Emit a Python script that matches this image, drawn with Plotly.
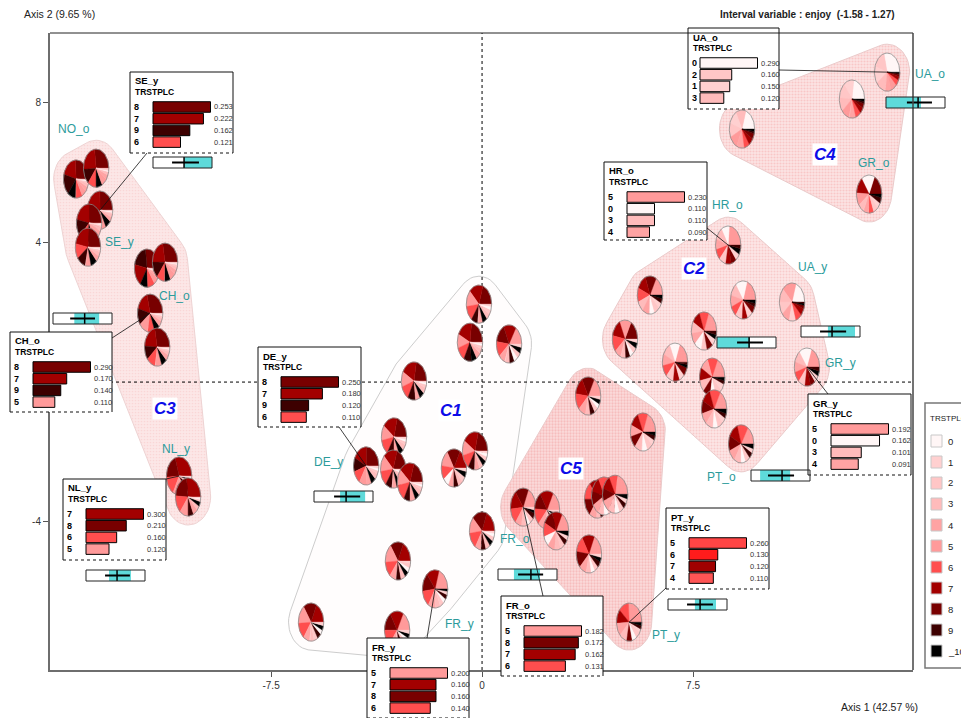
import math
import plotly.graph_objects as go

# ---------------------------------------------------------------------------
# Data
# ---------------------------------------------------------------------------
CATEGORIES = ['0', '1', '2', '3', '4', '5', '6', '7', '8', '9', '_10']
CAT_COLORS = ['#FFF6F6', '#FFD0D0', '#FFC6C6', '#FFBBBB', '#FFA3A3', '#FF9A9A',
              '#FF4E4E', '#A30000', '#780000', '#3D0000', '#000000']

AXIS1_INERTIA = 42.57
AXIS2_INERTIA = 9.65
ENJOY_MIN, ENJOY_MAX = -1.58, 1.27

# groups (country_age), their cluster, factorial coordinates and TRSTPLC profile
PIE_GROUP = ['', 'NO_o', 'SE_y', '', '', '', '', 'CH_o', '', 'NL_y', '',
             'UA_o', '', '', 'GR_o',
             'HR_o', '', '', 'UA_y', '', '', '', 'GR_y', '', '', 'PT_o',
             '', '', '', '', '', 'FR_o', '', '', '', 'PT_y',
             '', '', '', '', '', 'DE_y', '', '', '', '', '', '', 'FR_y', '', '']
PIE_CLUSTER = ['C3'] * 11 + ['C4'] * 4 + ['C2'] * 11 + ['C5'] * 10 + ['C1'] * 15
PIE_X = [-14.43, -13.72, -13.58, -13.97, -14.01, -11.91, -11.27, -11.80, -11.55, -10.77, -10.45,
         14.40, 13.15, 9.24, 13.76,
         8.75, 5.97, 9.28, 11.02, 5.08, 7.89, 6.86, 11.55, 8.18, 8.25, 9.21,
         3.77, 5.72, 4.09, 4.34, 4.73, 1.46, 2.31, 2.63, 3.80, 5.23,
         -0.11, -0.43, 0.96, -2.42, -3.13, -4.12, -3.16, -2.56, -1.00, -0.25, 0.00, -2.99, -1.67, -6.08, -3.02]
PIE_Y = [5.81, 6.12, 4.92, 4.55, 3.86, 3.26, 3.43, 1.97, 1.00, -2.69, -3.29,
         8.87, 8.10, 7.24, 5.38,
         3.92, 2.49, 2.35, 2.29, 1.23, 1.46, 0.57, 0.43, 0.14, -0.77, -1.77,
         -0.40, -1.43, -3.35, -3.26, -3.21, -3.58, -3.66, -4.26, -4.92, -6.87,
         2.23, 1.14, 1.09, 0.03, -1.57, -2.40, -2.49, -2.86, -2.46, -1.97, -4.26, -5.12, -5.92, -6.87, -7.10]
PIE_SHARES = [
    # C3
    [.01, .01, .02, .03, .04, .06, .09, .20, .26, .18, .10],
    [.01, .01, .01, .03, .04, .07, .11, .24, .27, .13, .08],
    [.010, .010, .012, .030, .040, .070, .121, .222, .253, .162, .070],
    [.01, .01, .02, .03, .05, .07, .10, .22, .25, .15, .09],
    [.01, .01, .02, .04, .05, .08, .13, .23, .24, .11, .08],
    [.01, .01, .01, .02, .04, .06, .09, .19, .27, .20, .10],
    [.01, .01, .02, .03, .04, .07, .10, .22, .28, .14, .08],
    [.010, .010, .020, .030, .050, .110, .100, .170, .290, .140, .070],
    [.01, .01, .02, .03, .05, .09, .11, .21, .28, .12, .07],
    [.010, .010, .020, .030, .060, .120, .160, .300, .210, .060, .020],
    [.01, .01, .02, .04, .06, .11, .15, .27, .22, .07, .04],
    # C4
    [.290, .150, .160, .120, .080, .080, .050, .030, .020, .010, .010],
    [.22, .14, .13, .12, .09, .10, .07, .05, .04, .02, .02],
    [.20, .12, .12, .13, .10, .11, .07, .06, .05, .02, .02],
    [.17, .05, .06, .07, .07, .11, .07, .14, .18, .05, .03],
    # C2
    [.110, .060, .080, .110, .090, .230, .090, .080, .070, .030, .050],
    [.07, .05, .07, .09, .09, .17, .12, .13, .14, .04, .03],
    [.15, .07, .08, .11, .10, .20, .09, .08, .06, .03, .03],
    [.20, .09, .11, .12, .10, .18, .08, .06, .03, .01, .02],
    [.05, .03, .05, .07, .08, .15, .14, .15, .17, .06, .05],
    [.09, .06, .08, .10, .10, .19, .12, .11, .08, .03, .04],
    [.13, .07, .09, .11, .10, .19, .10, .09, .07, .02, .03],
    [.162, .060, .080, .101, .091, .192, .090, .080, .065, .035, .044],
    [.08, .06, .08, .10, .11, .18, .13, .11, .09, .03, .03],
    [.07, .05, .07, .09, .10, .17, .14, .12, .11, .04, .04],
    [.06, .04, .06, .09, .10, .16, .14, .13, .13, .05, .04],
    # C5
    [.04, .03, .05, .07, .09, .17, .14, .15, .16, .06, .04],
    [.08, .05, .07, .09, .10, .19, .13, .12, .10, .04, .03],
    [.04, .02, .04, .06, .09, .18, .15, .17, .15, .06, .04],
    [.06, .04, .06, .08, .09, .20, .13, .13, .12, .05, .04],
    [.07, .04, .06, .08, .10, .21, .12, .12, .11, .05, .04],
    [.050, .025, .050, .070, .080, .182, .131, .162, .172, .050, .028],
    [.04, .03, .05, .07, .09, .17, .14, .17, .15, .05, .04],
    [.09, .04, .06, .08, .09, .17, .12, .13, .13, .05, .04],
    [.05, .03, .05, .07, .09, .18, .14, .16, .14, .05, .04],
    [.060, .030, .060, .090, .110, .260, .130, .120, .080, .030, .030],
    # C1
    [.03, .02, .04, .05, .07, .14, .13, .18, .20, .08, .06],
    [.02, .01, .03, .04, .06, .12, .12, .20, .23, .10, .07],
    [.05, .03, .05, .07, .08, .16, .13, .16, .16, .06, .05],
    [.02, .01, .03, .05, .06, .13, .12, .20, .22, .10, .06],
    [.02, .02, .03, .05, .07, .13, .13, .19, .21, .09, .06],
    [.020, .020, .030, .050, .060, .100, .110, .180, .250, .120, .060],
    [.03, .02, .04, .05, .07, .14, .13, .18, .20, .08, .06],
    [.02, .02, .03, .05, .07, .14, .14, .19, .20, .08, .06],
    [.07, .03, .05, .06, .07, .14, .12, .17, .17, .07, .05],
    [.03, .02, .04, .05, .07, .13, .12, .20, .21, .08, .05],
    [.03, .02, .04, .06, .07, .14, .14, .19, .19, .07, .05],
    [.04, .02, .04, .06, .08, .16, .13, .18, .17, .07, .05],
    [.040, .030, .050, .070, .090, .200, .140, .160, .160, .040, .020],
    [.04, .03, .05, .06, .08, .16, .14, .18, .17, .05, .04],
    [.04, .03, .05, .06, .08, .17, .14, .17, .16, .06, .04],
]

# interval variable "enjoy" per group: range (cyan), mean +/- sd (line), mean (tick)
INTERVAL_GROUPS = ['SE_y', 'CH_o', 'NL_y', 'DE_y', 'FR_o', 'PT_y', 'PT_o', 'UA_y', 'HR_o', 'UA_o']
INTERVAL_RANGE = [(-0.08, 1.27), (-0.55, 0.65), (-0.47, 0.59), (-0.32, 0.89), (-0.81, 0.45),
                  (-0.28, 0.74), (-1.14, 0.31), (-0.28, 1.03), (-1.58, 0.01), (-1.58, 0.11)]
INTERVAL_SD = [(-0.66, 0.64), (-0.75, 0.45), (-0.66, 0.54), (-0.61, 0.65), (-0.61, 0.60),
               (-0.66, 0.59), (-0.76, 0.50), (-0.66, 0.60), (-0.61, 0.64), (-0.57, 0.64)]
INTERVAL_MEAN = [-0.08, -0.05, -0.08, -0.03, 0.01, -0.03, -0.08, -0.08, -0.03, -0.03]

BOX_GROUPS = ['SE_y', 'CH_o', 'DE_y', 'NL_y', 'FR_y', 'FR_o', 'PT_y', 'GR_y', 'HR_o', 'UA_o']

CLUSTERS = ['C1', 'C2', 'C3', 'C4', 'C5']

# ---------------------------------------------------------------------------
# Page geometry (pixels) and styling
# ---------------------------------------------------------------------------
W, H = 961, 718
PL, PR, PT, PB = 50, 913, 33, 670
X_RANGE = [-15.36, 15.32]
Y_RANGE = [-8.24, 9.99]
FONT = 'Liberation Sans Narrow, Arial Narrow, Liberation Sans, Arial, sans-serif'
TEAL = '#2B9B9B'
CYAN = '#5EDADA'
PIE_RX, PIE_RY = 0.45, 0.545
HULL_R = 0.8

HULL_STYLE = {
    'C1': dict(fill='#FFFDFD', line='#CDCDCD', pattern=None),
    'C2': dict(fill='#FCE6E6', line='#EACACA', pattern=('#F4AFAF', 0.35)),
    'C3': dict(fill='#FCE7E7', line='#EED3D3', pattern=('#F7C6C6', 0.25)),
    'C4': dict(fill='#FCE4E4', line='#EACACA', pattern=('#F3A9A9', 0.40)),
    'C5': dict(fill='#FBDCDC', line='#EACACA', pattern=('#F29E9E', 0.45)),
}

# box: left, top, width, height, bar offset, connector anchor (pixels)
BOX_LAYOUT = {
    'SE_y': (130, 72, 103, 81, 23, (147, 153)),
    'CH_o': (10, 332, 102, 80, 23, (112, 338)),
    'DE_y': (258, 347, 103, 80, 23, (339, 427)),
    'NL_y': (63, 479, 103, 81, 23, (166, 479)),
    'FR_y': (367, 638, 102, 80, 23, (427, 638)),
    'FR_o': (501, 596, 102, 80, 23, (543, 596)),
    'PT_y': (666, 508, 103, 81, 23, (666, 588)),
    'GR_y': (808, 394, 103, 81, 23, (828, 394)),
    'HR_o': (604, 162, 103, 78, 23, (707, 228)),
    'UA_o': (688, 28, 91, 81, 12, (779, 70)),
}
BOX_BAR_COLORS = {'PT_y': ['#FF4545', '#FF1C1C', '#A00000', '#FF5555']}

INTERVAL_POS = {
    'SE_y': (153, 157), 'CH_o': (53, 313), 'NL_y': (86, 570), 'DE_y': (314, 491),
    'FR_o': (498, 569), 'PT_y': (668, 599), 'PT_o': (751, 470), 'UA_y': (801, 326),
    'HR_o': (717, 337), 'UA_o': (886, 97),
}

GROUP_LABEL_PX = {
    'NO_o': (74, 129), 'SE_y': (119, 242), 'CH_o': (174, 296), 'NL_y': (176, 449),
    'DE_y': (328, 462), 'FR_y': (459, 624), 'FR_o': (515, 539), 'PT_y': (666, 635),
    'PT_o': (721, 477), 'GR_y': (840, 363), 'UA_y': (812, 267), 'HR_o': (727, 205),
    'UA_o': (930, 74), 'GR_o': (874, 163),
}
CLUSTER_LABEL_PX = {'C1': (451, 410), 'C2': (694, 268), 'C3': (165, 409),
                    'C4': (825, 154), 'C5': (571, 468)}


def fx(p):
    return p / W


def fy(p):
    return 1 - p / H


def data_to_px(x, y):
    px = PL + (x - X_RANGE[0]) / (X_RANGE[1] - X_RANGE[0]) * (PR - PL)
    py = PB - (y - Y_RANGE[0]) / (Y_RANGE[1] - Y_RANGE[0]) * (PB - PT)
    return px, py


def text(x, y, s, size, color='#222', xanchor='center', yanchor='middle', **kw):
    return dict(x=fx(x), y=fy(y), xref='paper', yref='paper', text=s, showarrow=False,
                xanchor=xanchor, yanchor=yanchor, font=dict(size=size, color=color), **kw)


def convex_hull(points):
    pts = sorted(set(points))

    def cross(o, a, b):
        return (a[0] - o[0]) * (b[1] - o[1]) - (a[1] - o[1]) * (b[0] - o[0])

    lower, upper = [], []
    for p in pts:
        while len(lower) >= 2 and cross(lower[-2], lower[-1], p) <= 0:
            lower.pop()
        lower.append(p)
    for p in reversed(pts):
        while len(upper) >= 2 and cross(upper[-2], upper[-1], p) <= 0:
            upper.pop()
        upper.append(p)
    hull = lower[:-1] + upper[:-1]
    return hull + [hull[0]]


fig = go.Figure()

# --- cluster envelopes -------------------------------------------------------
for c in CLUSTERS:
    pts = []
    for x, y, cl in zip(PIE_X, PIE_Y, PIE_CLUSTER):
        if cl != c:
            continue
        for i in range(48):
            a = 2 * math.pi * i / 48
            pts.append((round(x + HULL_R * math.cos(a), 4), round(y + HULL_R * math.sin(a), 4)))
    hull = convex_hull(pts)
    st = HULL_STYLE[c]
    kw = {}
    if st['pattern']:
        kw['fillpattern'] = dict(shape='.', bgcolor=st['fill'], fgcolor=st['pattern'][0],
                                 size=3, solidity=st['pattern'][1])
    fig.add_trace(go.Scatter(x=[p[0] for p in hull], y=[p[1] for p in hull], mode='lines',
                             fill='toself', fillcolor=st['fill'],
                             line=dict(color=st['line'], width=1),
                             hoverinfo='skip', showlegend=False, **kw))

# --- origin lines --------------------------------------------------------------
fig.add_trace(go.Scatter(x=[0, 0], y=Y_RANGE, mode='lines',
                         line=dict(color='black', width=1, dash='dot'),
                         hoverinfo='skip', showlegend=False))
fig.add_trace(go.Scatter(x=X_RANGE, y=[0, 0], mode='lines',
                         line=dict(color='black', width=1, dash='dot'),
                         hoverinfo='skip', showlegend=False))

# --- pies (slices sorted by decreasing share, counter-clockwise from 3 o'clock)
for cx, cy, shares in zip(PIE_X, PIE_Y, PIE_SHARES):
    total = sum(shares)
    order = sorted(range(len(shares)), key=lambda k: -shares[k])
    a0 = 0.0
    for k in order:
        frac = shares[k] / total
        if frac <= 0:
            continue
        a1 = a0 + frac * 2 * math.pi
        n = max(2, int(frac * 96) + 2)
        xs, ys = [cx], [cy]
        for i in range(n + 1):
            a = a0 + (a1 - a0) * i / n
            xs.append(cx + PIE_RX * math.cos(a))
            ys.append(cy + PIE_RY * math.sin(a))
        xs.append(cx)
        ys.append(cy)
        fig.add_trace(go.Scatter(x=xs, y=ys, mode='lines', fill='toself',
                                 fillcolor=CAT_COLORS[k],
                                 line=dict(color=CAT_COLORS[k], width=0.4),
                                 hoverinfo='skip', showlegend=False))
        a0 = a1
    ex = [cx + PIE_RX * math.cos(2 * math.pi * i / 72) for i in range(73)]
    ey = [cy + PIE_RY * math.sin(2 * math.pi * i / 72) for i in range(73)]
    fig.add_trace(go.Scatter(x=ex, y=ey, mode='lines', line=dict(color='#8A8A8A', width=0.8),
                             hoverinfo='skip', showlegend=False))

layout = dict(
    width=W, height=H, margin=dict(l=0, r=0, t=0, b=0),
    paper_bgcolor='white', plot_bgcolor='white', showlegend=False,
    hovermode=False, barmode='overlay', font=dict(family=FONT, color='#222'),
    xaxis=dict(domain=[fx(PL), fx(PR)], range=X_RANGE, tickvals=[-7.5, 0, 7.5],
               ticktext=['-7.5', '0', '7.5'], ticks='outside', ticklen=5, tickwidth=1,
               tickcolor='#555', showline=True, linecolor='#6E6E6E', linewidth=2,
               showgrid=False, zeroline=False, tickfont=dict(size=10, color='#333'),
               fixedrange=True, anchor='y'),
    yaxis=dict(domain=[fy(PB), fy(PT)], range=Y_RANGE, tickvals=[8, 4, 0, -4],
               ticktext=['8', '4', '0', '-4'], ticks='outside', ticklen=5, tickwidth=1,
               tickcolor='#555', showline=True, linecolor='#6E6E6E', linewidth=2,
               showgrid=False, zeroline=False, tickfont=dict(size=10, color='#333'),
               fixedrange=True, anchor='x'),
)

shapes = []
annotations = []

# frame (top / right)
shapes.append(dict(type='line', xref='paper', yref='paper', x0=fx(PL), x1=fx(PR),
                   y0=fy(PT), y1=fy(PT), line=dict(color='#222', width=1)))
shapes.append(dict(type='line', xref='paper', yref='paper', x0=fx(PR), x1=fx(PR),
                   y0=fy(PT), y1=fy(PB), line=dict(color='#444', width=1.5)))

# --- TRSTPLC profile boxes (inset bar charts) ----------------------------------
for bi, g in enumerate(BOX_GROUPS):
    left, top, w, h, off, (ax_, ay_) = BOX_LAYOUT[g]
    p = PIE_GROUP.index(g)
    shares = PIE_SHARES[p]
    top4 = sorted(range(len(shares)), key=lambda k: -shares[k])[:4]
    vals = [shares[k] for k in top4]
    vmax = vals[0]
    n = bi + 2
    per_px = vmax / 57.5
    x_lo = -off * per_px
    layout[f'xaxis{n}'] = dict(domain=[fx(left), fx(left + w)], range=[x_lo, x_lo + w * per_px],
                               visible=False, fixedrange=True, anchor=f'y{n}')
    layout[f'yaxis{n}'] = dict(domain=[fy(top + h), fy(top)],
                               range=[(h - 35) / 11.7, -35 / 11.7],
                               visible=False, fixedrange=True, anchor=f'x{n}')
    colors = BOX_BAR_COLORS.get(g, [CAT_COLORS[k] for k in top4])
    fig.add_trace(go.Bar(x=vals, y=[0, 1, 2, 3], orientation='h', width=0.9,
                         marker=dict(color=colors, line=dict(color='black', width=1)),
                         xaxis=f'x{n}', yaxis=f'y{n}', hoverinfo='skip', showlegend=False))
    # border: solid top/left/right, dotted bottom
    shapes.append(dict(type='path', xref='paper', yref='paper', layer='above',
                       path=f'M {fx(left)},{fy(top + h)} L {fx(left)},{fy(top)} '
                            f'L {fx(left + w)},{fy(top)} L {fx(left + w)},{fy(top + h)}',
                       line=dict(color='#111', width=1)))
    shapes.append(dict(type='line', xref='paper', yref='paper', layer='above',
                       x0=fx(left), x1=fx(left + w), y0=fy(top + h), y1=fy(top + h),
                       line=dict(color='#111', width=1, dash='dot')))
    # leader line to the group's pie
    pxc, pyc = data_to_px(PIE_X[p], PIE_Y[p])
    shapes.append(dict(type='line', xref='paper', yref='paper', layer='above',
                       x0=fx(ax_), y0=fy(ay_), x1=fx(pxc), y1=fy(pyc),
                       line=dict(color='#111', width=0.8)))
    annotations.append(text(left + 3, top + 9, f'<b>{g}</b>', 9.5, 'black', xanchor='left'))
    annotations.append(text(left + 3, top + 20, '<b>TRSTPLC</b>', 8.5, 'black', xanchor='left'))
    for i, k in enumerate(top4):
        ry = top + 35 + 11.7 * i
        annotations.append(text(left + 2, ry, f'<b>{CATEGORIES[k]}</b>', 9, 'black',
                                xanchor='left'))
        annotations.append(text(left + off + 58.5, ry, f'{vals[i]:.3f}', 7.5, '#333',
                                xanchor='left'))

# --- interval variable glyphs -----------------------------------------------
for ii, g in enumerate(INTERVAL_GROUPS):
    left, top = INTERVAL_POS[g]
    w, h = 59, 11
    n = 2 + len(BOX_GROUPS) + ii
    layout[f'xaxis{n}'] = dict(domain=[fx(left), fx(left + w)], range=[ENJOY_MIN, ENJOY_MAX],
                               visible=False, fixedrange=True, anchor=f'y{n}')
    layout[f'yaxis{n}'] = dict(domain=[fy(top + h), fy(top)], range=[-0.5, 0.5],
                               visible=False, fixedrange=True, anchor=f'x{n}')
    lo, hi = INTERVAL_RANGE[ii]
    s0, s1 = INTERVAL_SD[ii]
    m = INTERVAL_MEAN[ii]
    fig.add_trace(go.Bar(x=[hi - lo], base=[lo], y=[0], orientation='h', width=1,
                         marker=dict(color=CYAN, line=dict(width=0)),
                         xaxis=f'x{n}', yaxis=f'y{n}', hoverinfo='skip', showlegend=False))
    fig.add_trace(go.Scatter(x=[s0, s1], y=[0, 0], mode='lines',
                             line=dict(color='black', width=2),
                             xaxis=f'x{n}', yaxis=f'y{n}', hoverinfo='skip', showlegend=False))
    fig.add_trace(go.Scatter(x=[m, m], y=[-0.5, 0.5], mode='lines',
                             line=dict(color='black', width=1.5),
                             xaxis=f'x{n}', yaxis=f'y{n}', hoverinfo='skip', showlegend=False))
    shapes.append(dict(type='rect', xref='paper', yref='paper', layer='above',
                       x0=fx(left), x1=fx(left + w), y0=fy(top + h), y1=fy(top),
                       line=dict(color='#222', width=1)))

# --- group and cluster labels ------------------------------------------------
for g, (lx, ly) in GROUP_LABEL_PX.items():
    annotations.append(text(lx, ly, g, 12, TEAL))
for c, (lx, ly) in CLUSTER_LABEL_PX.items():
    annotations.append(text(lx, ly, f'<b><i>{c}</i></b>', 17, '#0C0CE8',
                            bgcolor='white', borderpad=1))

# --- titles ---------------------------------------------------------------------
annotations.append(text(22, 14, f'Axis 2 ({AXIS2_INERTIA:.2f} %)', 10.5, xanchor='left'))
annotations.append(text(718, 14, f'<b>Interval variable : enjoy  ({ENJOY_MIN:.2f} - {ENJOY_MAX:.2f})</b>',
                        10, xanchor='left'))
annotations.append(text(920, 707, f'Axis 1 ({AXIS1_INERTIA:.2f} %)', 10.5, xanchor='right'))

# --- category legend -------------------------------------------------------------
shapes.append(dict(type='rect', xref='paper', yref='paper', x0=fx(925), x1=fx(985),
                   y0=fy(668), y1=fy(403), line=dict(color='#777', width=1.5),
                   fillcolor='white', layer='above'))
annotations.append(text(928, 418, 'TRSTPLC', 8, xanchor='left'))
for i, (cat, col) in enumerate(zip(CATEGORIES, CAT_COLORS)):
    yc = 441 + 21 * i
    shapes.append(dict(type='rect', xref='paper', yref='paper', layer='above',
                       x0=fx(931), x1=fx(942), y0=fy(yc + 6), y1=fy(yc - 6),
                       fillcolor=col, line=dict(color='#C8C8C8', width=1)))
    annotations.append(text(946, yc, cat, 9.5, xanchor='left'))

layout['shapes'] = shapes
layout['annotations'] = annotations
fig.update_layout(**layout)

fig.write_html('out.html', config={'displayModeBar': False})
